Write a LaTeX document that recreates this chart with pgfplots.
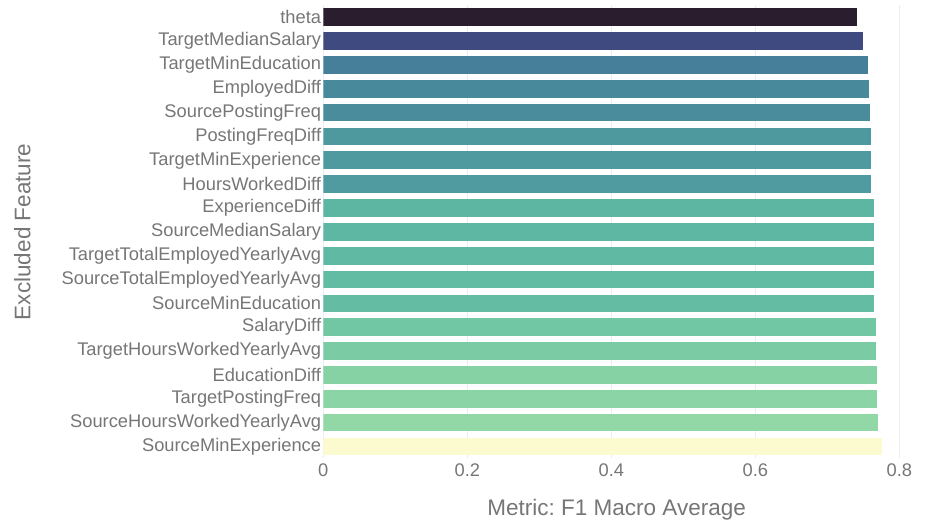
\documentclass[border=0pt]{standalone}
\usepackage{fontspec}
\setmainfont{Liberation Sans}
\usepackage{pgfplots}
\pgfplotsset{compat=1.18}
\frenchspacing

\definecolor{txt}{RGB}{118,118,118}
\definecolor{gridc}{HTML}{E9EEF6}
\definecolor{c0}{HTML}{2A1E2E}
\definecolor{c1}{HTML}{3E4A80}
\definecolor{c2}{HTML}{457F9A}
\definecolor{c3}{HTML}{48899B}
\definecolor{c4}{HTML}{4A8B9C}
\definecolor{c5}{HTML}{4E999E}
\definecolor{c6}{HTML}{4F9A9E}
\definecolor{c7}{HTML}{4F9B9F}
\definecolor{c8}{HTML}{5CB6A2}
\definecolor{c9}{HTML}{5DB7A3}
\definecolor{c10}{HTML}{5FB9A3}
\definecolor{c11}{HTML}{62BBA3}
\definecolor{c12}{HTML}{64BDA3}
\definecolor{c13}{HTML}{71C6A4}
\definecolor{c14}{HTML}{7BCCA5}
\definecolor{c15}{HTML}{86D2A5}
\definecolor{c16}{HTML}{8AD4A5}
\definecolor{c17}{HTML}{92D7A6}
\definecolor{c18}{HTML}{FCFBCF}

\pgfplotsset{feat/.style={xbar, bar width=0.74, draw=none, fill=#1}}

\begin{document}
\begin{tikzpicture}
\path[use as bounding box] (0,0) rectangle (926pt,525pt);
\begin{axis}[
    at={(323.3pt,66.6pt)}, anchor=south west,
    scale only axis,
    width=586.8pt, height=453.1pt,
    xmin=0, xmax=0.815,
    ymin=-0.5, ymax=18.5,
    y dir=reverse,
    axis line style={draw=none},
    tick style={draw=none},
    xmajorgrids,
    grid style={gridc, line width=1pt},
    xtick={0,0.2,0.4,0.6,0.8},
    xticklabels={0,0.2,0.4,0.6,0.8},
    ytick={0,...,18},
    yticklabels={theta,TargetMedianSalary,TargetMinEducation,EmployedDiff,
        SourcePostingFreq,PostingFreqDiff,TargetMinExperience,HoursWorkedDiff,
        ExperienceDiff,SourceMedianSalary,TargetTotalEmployedYearlyAvg,
        SourceTotalEmployedYearlyAvg,SourceMinEducation,SalaryDiff,
        TargetHoursWorkedYearlyAvg,EducationDiff,TargetPostingFreq,
        SourceHoursWorkedYearlyAvg,SourceMinExperience},
    ticklabel style={font=\fontsize{18.3}{20}\selectfont, text=txt},
    yticklabel style={inner sep=0pt, xshift=-2pt},
    xticklabel style={inner sep=0pt, yshift=-5pt},
    /pgf/number format/assume math mode=true,
    xlabel={Metric: F1 Macro Average},
    ylabel={Excluded Feature},
    label style={font=\fontsize{22.5}{26}\selectfont, text=txt},
    xlabel style={at={(axis description cs:0.5,-0.1139)}, anchor=center},
    ylabel style={at={(axis description cs:-0.513,0.5)}, anchor=center},
]
\addplot[feat=c0]  coordinates {(0.7413,0)};
\addplot[feat=c1]  coordinates {(0.7492,1)};
\addplot[feat=c2]  coordinates {(0.7569,2)};
\addplot[feat=c3]  coordinates {(0.7583,3)};
\addplot[feat=c4]  coordinates {(0.7589,4)};
\addplot[feat=c5]  coordinates {(0.7607,5)};
\addplot[feat=c6]  coordinates {(0.7607,6)};
\addplot[feat=c7]  coordinates {(0.7607,7)};
\addplot[feat=c8]  coordinates {(0.7644,8)};
\addplot[feat=c9]  coordinates {(0.7644,9)};
\addplot[feat=c10] coordinates {(0.7649,10)};
\addplot[feat=c11] coordinates {(0.7653,11)};
\addplot[feat=c12] coordinates {(0.7653,12)};
\addplot[feat=c13] coordinates {(0.7672,13)};
\addplot[feat=c14] coordinates {(0.7681,14)};
\addplot[feat=c15] coordinates {(0.7690,15)};
\addplot[feat=c16] coordinates {(0.7690,16)};
\addplot[feat=c17] coordinates {(0.7700,17)};
\addplot[feat=c18] coordinates {(0.7764,18)};
\end{axis}
\end{tikzpicture}
\end{document}
